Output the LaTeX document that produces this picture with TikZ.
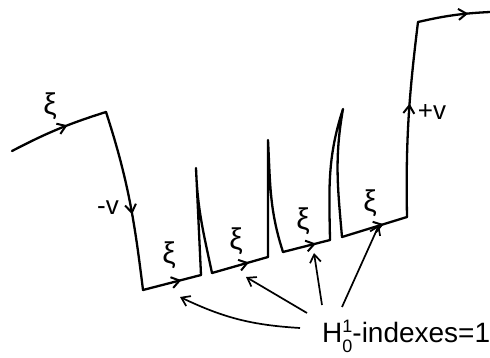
\documentclass[tikz,border=0pt]{standalone}
\usepackage{fontspec}
\setmainfont{Liberation Sans}
\usetikzlibrary{arrows.meta,decorations.markings}
\begin{document}
\begin{tikzpicture}[x=1pt,y=1pt,
  barb/.tip={Straight Barb[length=8pt,width=11pt,line width=2pt]},
  pathline/.style={line width=2.3pt,line join=round,line cap=round},
  marrow/.style={postaction={decorate,decoration={markings,mark=at position #1 with {\arrow{barb}}}}},
  ptr/.style={line width=1.7pt,-{Straight Barb[length=8pt,width=11pt,line width=1.7pt]}},
  xilab/.style={font=\fontsize{30}{30}\selectfont,inner sep=0pt},
  vlab/.style={font=\fontsize{26}{26}\selectfont,inner sep=0pt}]
\useasboundingbox (0,0) rectangle (490,-358);
% path vertices
\coordinate (a0) at (12,-151);
\coordinate (a1) at (106,-112);
\coordinate (a2) at (143,-290);
\coordinate (a3) at (201,-275);
\coordinate (p1) at (196,-168);
\coordinate (a4) at (212,-273);
\coordinate (a5) at (268,-257);
\coordinate (p2) at (268,-140);
\coordinate (a6) at (283,-252);
\coordinate (a7) at (330,-240);
\coordinate (p3) at (343,-109);
\coordinate (a8) at (342,-237);
\coordinate (a9) at (407,-217);
\coordinate (a10) at (418,-22);
\coordinate (a11) at (490,-12);
% main path
\draw[pathline,marrow=0.6] (a0) to[bend left=5] (a1);
\draw[pathline,marrow=0.58] (a1) to[out=-72,in=97] (a2);
\draw[pathline,marrow=0.66] (a2) -- (a3);
\draw[pathline] (a3) -- (p1) to[out=-88,in=102] (a4);
\draw[pathline,marrow=0.66] (a4) -- (a5);
\draw[pathline] (a5) -- (p2) to[out=-87,in=108] (a6);
\draw[pathline,marrow=0.7] (a6) -- (a7);
\draw[pathline] (a7) to[out=91,in=-108] (p3) to[out=-100,in=95] (a8);
\draw[pathline,marrow=0.64] (a8) -- (a9);
\draw[pathline,marrow=0.58] (a9) to[out=91,in=-97] (a10);
\draw[pathline,marrow=0.7] (a10) to[bend left=5] (a11);
% labels
\node[xilab] (x0) at (50,-106) {ξ};
\node[xilab] (x1) at (169,-255) {ξ};
\node[xilab] (x2) at (236,-241) {ξ};
\node[xilab] (x3) at (303,-221) {ξ};
\node[xilab] (x4) at (370,-203) {ξ};
\node[vlab] (mv) at (108,-208) {-v};
\node[vlab] (pv) at (432,-112) {+v};
\node[anchor=base west,inner sep=0pt,font=\fontsize{28}{28}\selectfont] (h) at (322,-342)
  {H\makebox[0pt][l]{\raisebox{10pt}{\fontsize{18}{18}\selectfont 1}}\raisebox{-10pt}{\fontsize{18}{18}\selectfont 0}-indexes=1};
% pointer arrows
\coordinate (s1) at (300,-328);
\coordinate (s2) at (307,-313);
\coordinate (s3) at (322,-305);
\coordinate (s4) at (342,-307);
\coordinate (t1) at (180,-297);
\coordinate (t2) at (246,-277);
\coordinate (t3) at (314,-253);
\coordinate (t4) at (379,-225);
\draw[ptr] (s1) to[bend left=11] (t1);
\draw[ptr] (s2) -- (t2);
\draw[ptr] (s3) -- (t3);
\draw[ptr] (s4) -- (t4);
\end{tikzpicture}
\end{document}
